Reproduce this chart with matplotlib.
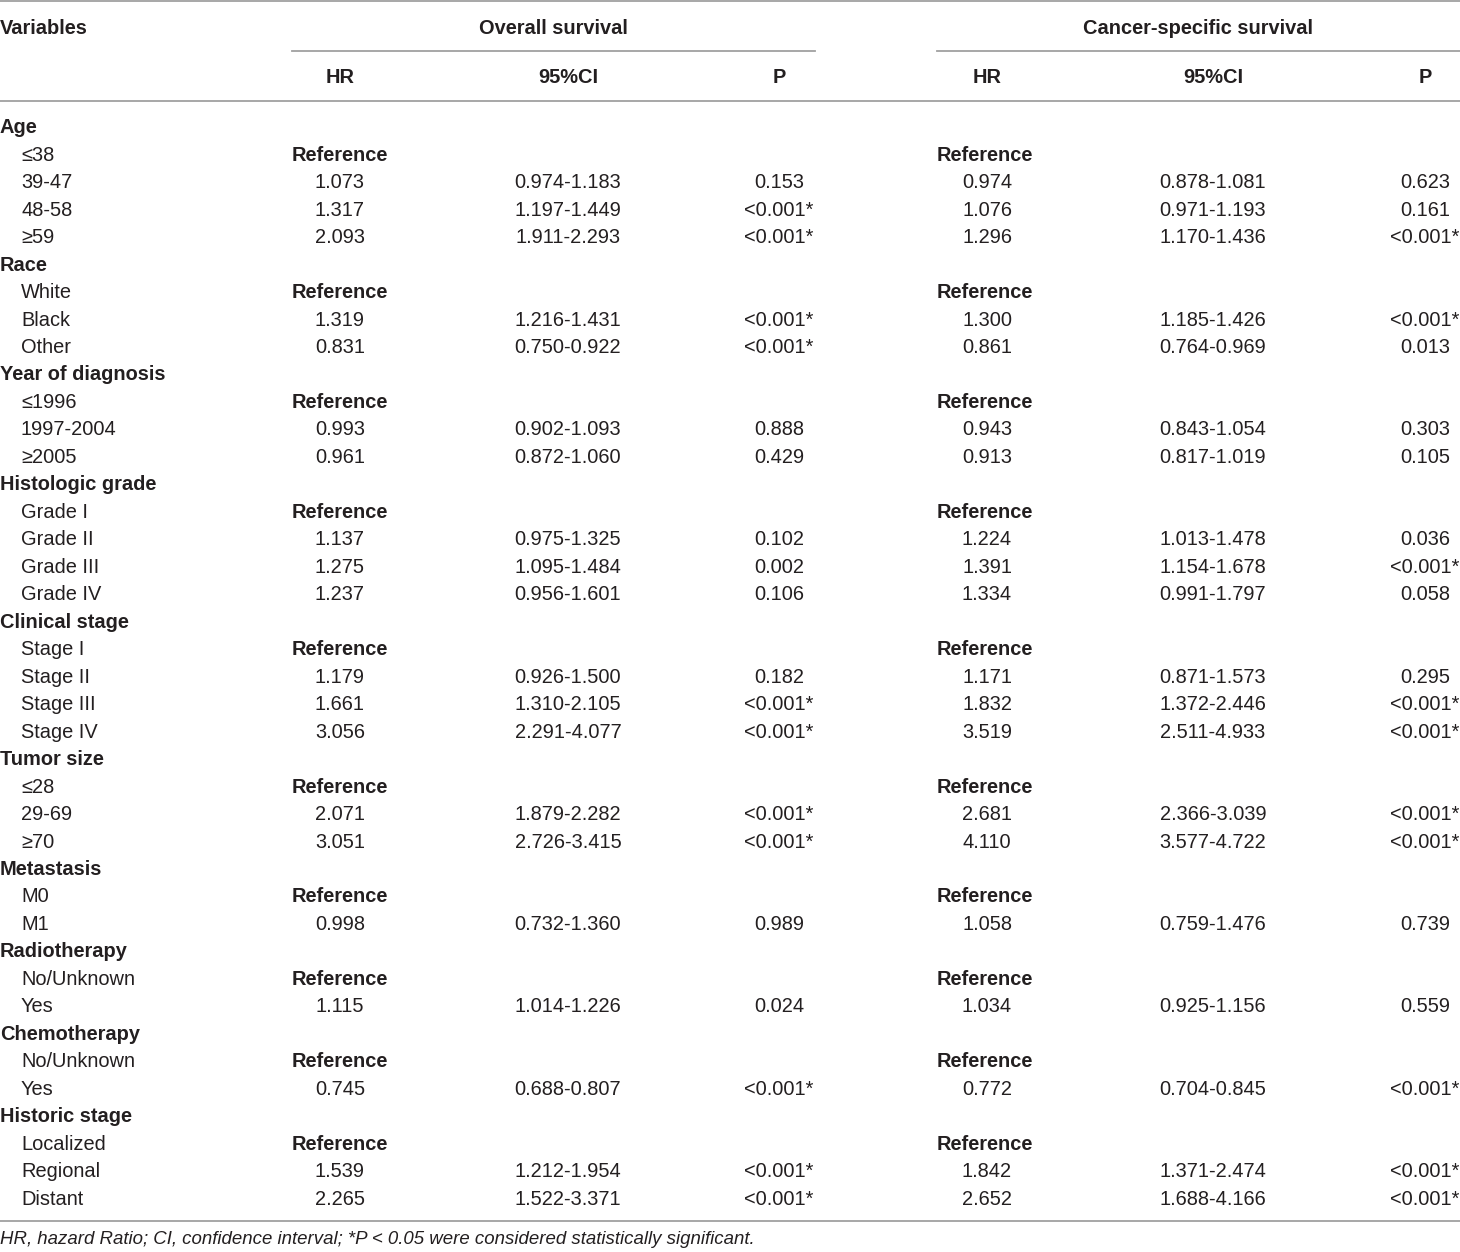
import matplotlib
matplotlib.use("Agg")
import matplotlib.pyplot as plt

plt.rcParams['font.family'] = ['Liberation Sans', 'DejaVu Sans']

# ---- data ----
row_labels = ["Age", "≤38", "39-47", "48-58", "≥59",
              "Race", "White", "Black", "Other",
              "Year of diagnosis", "≤1996", "1997-2004", "≥2005",
              "Histologic grade", "Grade I", "Grade II", "Grade III", "Grade IV",
              "Clinical stage", "Stage I", "Stage II", "Stage III", "Stage IV",
              "Tumor size", "≤28", "29-69", "≥70",
              "Metastasis", "M0", "M1",
              "Radiotherapy", "No/Unknown", "Yes",
              "Chemotherapy", "No/Unknown", "Yes",
              "Historic stage", "Localized", "Regional", "Distant"]
group_rows = [0, 5, 9, 13, 18, 23, 27, 30, 33, 36]

os_hr = ["", "Reference", "1.073", "1.317", "2.093",
         "", "Reference", "1.319", "0.831",
         "", "Reference", "0.993", "0.961",
         "", "Reference", "1.137", "1.275", "1.237",
         "", "Reference", "1.179", "1.661", "3.056",
         "", "Reference", "2.071", "3.051",
         "", "Reference", "0.998",
         "", "Reference", "1.115",
         "", "Reference", "0.745",
         "", "Reference", "1.539", "2.265"]
os_ci = ["", "", "0.974-1.183", "1.197-1.449", "1.911-2.293",
         "", "", "1.216-1.431", "0.750-0.922",
         "", "", "0.902-1.093", "0.872-1.060",
         "", "", "0.975-1.325", "1.095-1.484", "0.956-1.601",
         "", "", "0.926-1.500", "1.310-2.105", "2.291-4.077",
         "", "", "1.879-2.282", "2.726-3.415",
         "", "", "0.732-1.360",
         "", "", "1.014-1.226",
         "", "", "0.688-0.807",
         "", "", "1.212-1.954", "1.522-3.371"]
os_p = ["", "", "0.153", "<0.001*", "<0.001*",
        "", "", "<0.001*", "<0.001*",
        "", "", "0.888", "0.429",
        "", "", "0.102", "0.002", "0.106",
        "", "", "0.182", "<0.001*", "<0.001*",
        "", "", "<0.001*", "<0.001*",
        "", "", "0.989",
        "", "", "0.024",
        "", "", "<0.001*",
        "", "", "<0.001*", "<0.001*"]
css_hr = ["", "Reference", "0.974", "1.076", "1.296",
          "", "Reference", "1.300", "0.861",
          "", "Reference", "0.943", "0.913",
          "", "Reference", "1.224", "1.391", "1.334",
          "", "Reference", "1.171", "1.832", "3.519",
          "", "Reference", "2.681", "4.110",
          "", "Reference", "1.058",
          "", "Reference", "1.034",
          "", "Reference", "0.772",
          "", "Reference", "1.842", "2.652"]
css_ci = ["", "", "0.878-1.081", "0.971-1.193", "1.170-1.436",
          "", "", "1.185-1.426", "0.764-0.969",
          "", "", "0.843-1.054", "0.817-1.019",
          "", "", "1.013-1.478", "1.154-1.678", "0.991-1.797",
          "", "", "0.871-1.573", "1.372-2.446", "2.511-4.933",
          "", "", "2.366-3.039", "3.577-4.722",
          "", "", "0.759-1.476",
          "", "", "0.925-1.156",
          "", "", "0.704-0.845",
          "", "", "1.371-2.474", "1.688-4.166"]
css_p = ["", "", "0.623", "0.161", "<0.001*",
         "", "", "<0.001*", "0.013",
         "", "", "0.303", "0.105",
         "", "", "0.036", "<0.001*", "0.058",
         "", "", "0.295", "<0.001*", "<0.001*",
         "", "", "<0.001*", "<0.001*",
         "", "", "0.739",
         "", "", "0.559",
         "", "", "<0.001*",
         "", "", "<0.001*", "<0.001*"]

group_headers = ["Overall survival", "Cancer-specific survival"]
sub_headers = ["HR", "95%CI", "P"]
footnote = "HR, hazard Ratio; CI, confidence interval; *P < 0.05 were considered statistically significant."

# ---- layout ----
W, H = 1460, 1252
fig = plt.figure(figsize=(W / 100, H / 100), dpi=100)
ax = fig.add_axes([0, 0, 1, 1])
ax.set_xlim(0, W)
ax.set_ylim(H, 0)
ax.axis('off')

txt = '#231f20'
line_c = '#a0a0a0'
fs = 14.4

# lines
ax.plot([0, W], [1, 1], color=line_c, lw=1.3)
ax.plot([292, 815], [50.7, 50.7], color=line_c, lw=1.3)
ax.plot([937, W], [50.7, 50.7], color=line_c, lw=1.3)
ax.plot([0, W], [100.7, 100.7], color=line_c, lw=1.3)
ax.plot([0, W], [1220.7, 1220.7], color=line_c, lw=1.3)

# headers
ax.text(0, 34, "Variables", ha='left', va='baseline', fontsize=fs, fontweight='bold', color=txt)
ax.text(553, 34, group_headers[0], ha='center', va='baseline', fontsize=fs, fontweight='bold', color=txt)
ax.text(1198, 34, group_headers[1], ha='center', va='baseline', fontsize=fs, fontweight='bold', color=txt)
col_x = [340, 568, 779, 987, 1213, 1425]
for i, cx in enumerate(col_x):
    ax.text(cx, 83, sub_headers[i % 3], ha='center', va='baseline', fontsize=fs, fontweight='bold', color=txt)

# body
y0 = 133.2
step = (1198 - 126.5) / 39
ref_x = [292, 937]
for i, lab in enumerate(row_labels):
    y = y0 + i * step
    if i in group_rows:
        ax.text(0, y, lab, ha='left', va='baseline', fontsize=fs, fontweight='bold', color=txt)
        continue
    ax.text(21, y, lab, ha='left', va='baseline', fontsize=fs, color=txt)
    for k, (hr, ci, p) in enumerate([(os_hr, os_ci, os_p), (css_hr, css_ci, css_p)]):
        if hr[i] == "Reference":
            ax.text(ref_x[k], y, "Reference", ha='left', va='baseline', fontsize=fs,
                    fontweight='bold', color=txt)
        else:
            ax.text(col_x[3 * k], y, hr[i], ha='center', va='baseline', fontsize=fs, color=txt)
            ax.text(col_x[3 * k + 1], y, ci[i], ha='center', va='baseline', fontsize=fs, color=txt)
            ax.text(col_x[3 * k + 2], y, p[i], ha='center', va='baseline', fontsize=fs, color=txt)

ax.text(0, 1244, footnote, ha='left', va='baseline', fontsize=13.4, fontstyle='italic', color=txt)

fig.savefig("out.png", dpi=100)
